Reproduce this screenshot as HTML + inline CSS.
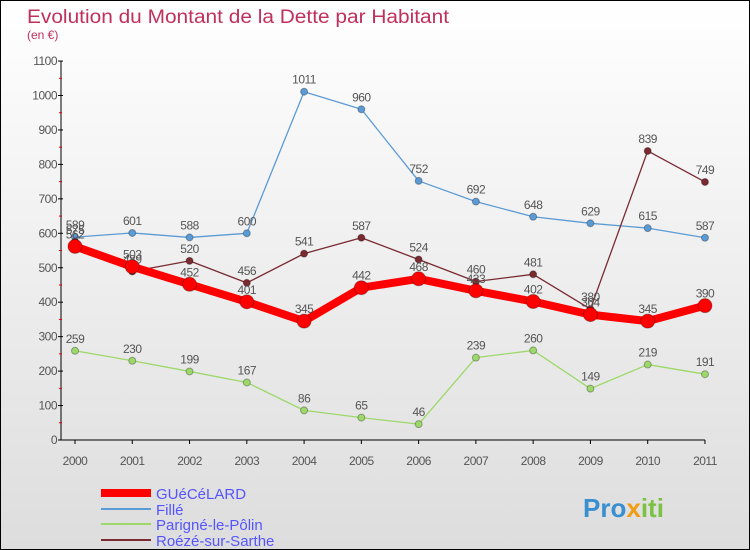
<!DOCTYPE html>
<html><head><meta charset="utf-8"><style>
body{margin:0}
#c{width:748px;height:548px;border:1px solid #000;background:linear-gradient(#fff,#ddd);position:relative;font-family:"Liberation Sans",sans-serif;overflow:hidden}
</style></head><body>
<div id="c">
<svg id="s" width="748" height="548" xmlns="http://www.w3.org/2000/svg">
<text x="26" y="22" font-size="19" fill="#c0305a" textLength="422" lengthAdjust="spacingAndGlyphs">Evolution du Montant de la Dette par Habitant</text>
<text x="26" y="38" font-size="12" fill="#c0305a">(en €)</text>
<g id="grid"></g><g id="series"></g>
<g>
<line x1="100" y1="492" x2="150" y2="492" stroke="#f00" stroke-width="8"/><text x="155" y="498" font-size="15" fill="#55f">GUéCéLARD</text>
<line x1="100" y1="508" x2="150" y2="508" stroke="#5b9bd5" stroke-width="2"/><text x="155" y="514" font-size="15" fill="#55f">Fillé</text>
<line x1="100" y1="523" x2="150" y2="523" stroke="#9dd86a" stroke-width="2"/><text x="155" y="529" font-size="15" fill="#55f">Parigné-le-Pôlin</text>
<line x1="100" y1="539" x2="150" y2="539" stroke="#7a2a30" stroke-width="2"/><text x="155" y="545" font-size="15" fill="#55f">Roézé-sur-Sarthe</text>
</g>
<text x="582" y="516" font-size="26" font-weight="bold" fill="#3a8fd0">Pro<tspan fill="#f39c12">x</tspan><tspan fill="#7cc242">iti</tspan></text>
</svg></div>
<script>
const years=["2000","2001","2002","2003","2004","2005","2006","2007","2008","2009","2010","2011"];
const yTicks=[0,100,200,300,400,500,600,700,800,900,1000,1100];
const guecelard=[562,503,452,401,345,442,468,433,402,364,345,390];
const fille=[589,601,588,600,1011,960,752,692,648,629,615,587];
const parigne=[259,230,199,167,86,65,46,239,260,149,219,191];
const roeze=[575,489,520,456,541,587,524,460,481,380,839,749];
const NS="http://www.w3.org/2000/svg";
const X=i=>74+i*57.27, Y=v=>439-v*0.3445;
function mk(t,a,p){const e=document.createElementNS(NS,t);for(const k in a)e.setAttribute(k,a[k]);p.appendChild(e);return e;}
const g=document.getElementById('grid'),sg=document.getElementById('series');
let ax=mk('line',{x1:60,y1:Y(1100),x2:60,y2:439,stroke:'#000'},g);


let bx=mk('line',{x1:60,y1:439,x2:X(11),y2:439,stroke:'#000'},g);


yTicks.forEach(v=>{mk('line',{x1:57,x2:62,y1:Y(v),y2:Y(v),stroke:'#000'},g);
 if(v<1100)mk('line',{x1:58,x2:61,y1:Y(v+50),y2:Y(v+50),stroke:'#e00'},g);
 const t=mk('text',{x:56,y:Y(v)+4,'text-anchor':'end','font-size':12,fill:'#555','letter-spacing':'-0.5'},g);t.textContent=v;
 
 });
years.forEach((y,i)=>{mk('line',{x1:X(i),x2:X(i),y1:439,y2:443,stroke:'#000'},g);
 const t=mk('text',{x:X(i),y:464,'text-anchor':'middle','font-size':12,fill:'#555','letter-spacing':'-0.5'},g);t.textContent=y;
 
 });
function draw(d,col,w,r,name){
 const p=mk('polyline',{points:d.map((v,i)=>X(i)+','+Y(v)).join(' '),fill:'none',stroke:col,'stroke-width':w,'stroke-linejoin':'round'},sg);
 
 
 d.forEach((v,i)=>{const c=mk('circle',{cx:X(i),cy:Y(v),r:r,fill:col,stroke:'rgba(0,0,0,0.3)'},sg);
  
  
  const t=mk('text',{x:X(i),y:Y(v)-8,'text-anchor':'middle','font-size':12,fill:'#555','letter-spacing':'-0.5'},sg);t.textContent=v;
  
  });
}
draw(fille,'#5b9bd5',1.3,3.5,'fille');
draw(parigne,'#9dd86a',1.3,3.5,'parigne');
draw(roeze,'#7a2a30',1.3,3.5,'roeze');
draw(guecelard,'#f00',8,7,'guecelard');
</script>
</body></html>
